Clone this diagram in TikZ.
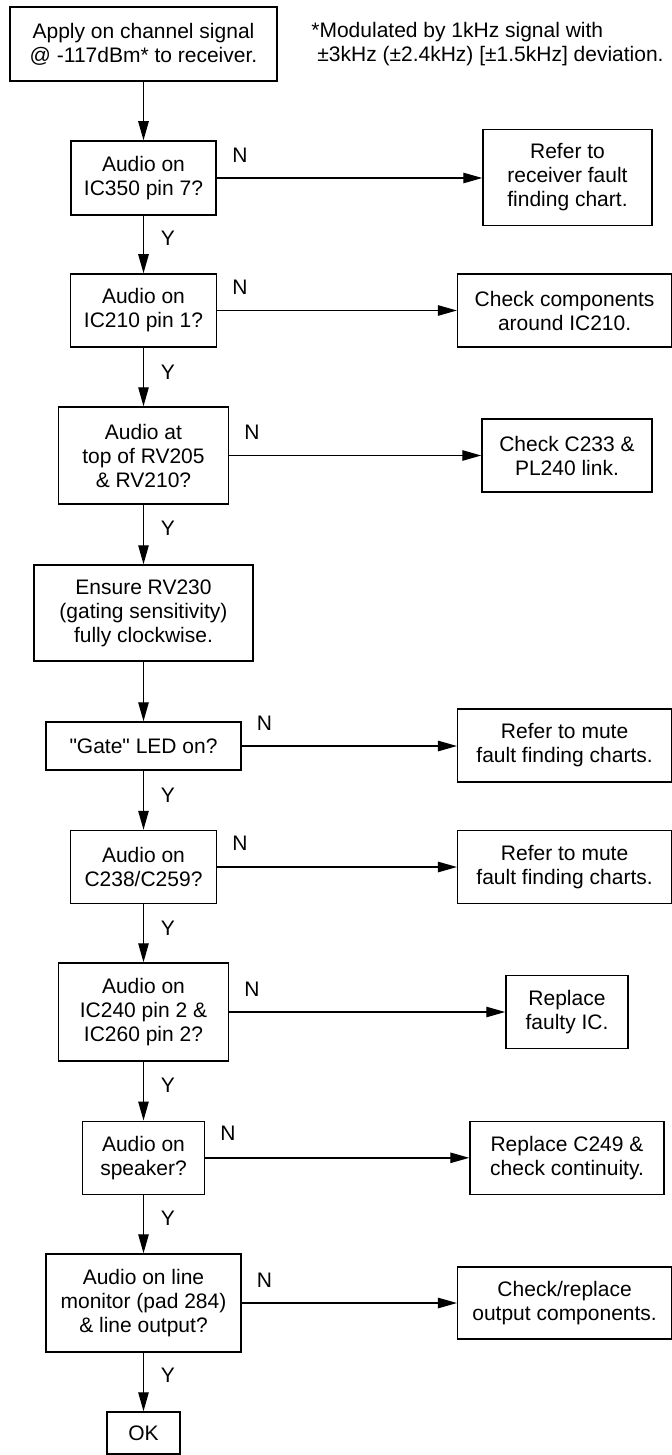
\documentclass[tikz,border=0pt]{standalone}
\usepackage{fontspec}
\setmainfont{Liberation Sans}[Ligatures=TeXOff]
\usetikzlibrary{arrows.meta}
\begin{document}
\begin{tikzpicture}[x=0.5pt,y=-0.5pt,
  box/.style={draw, line width=0.75pt, inner sep=0pt, align=center, font=\fontsize{10.5pt}{12pt}\selectfont},
  lbl/.style={inner sep=0pt, font=\fontsize{10.5pt}{12pt}\selectfont},
  arr/.style={line width=0.7pt, -{Triangle[length=9.5pt,width=5.2pt]}}]
\useasboundingbox (0,0) rectangle (672,1455);

% left column
\node[box, minimum width=133.5pt, minimum height=37pt] (s0) at (143.5,44) {Apply on channel signal\\@ -117dBm* to receiver.};
\node[lbl, anchor=west, align=left] (note) at (311,44) {*Modulated by 1kHz signal with\\\hspace{3pt}±3kHz (±2.4kHz) [±1.5kHz] deviation.};
\node[box, minimum width=72.5pt, minimum height=37pt] (q1) at (143.5,178) {Audio on\\IC350 pin 7?};
\node[box, minimum width=73pt, minimum height=36.5pt] (q2) at (143.5,310.5) {Audio on\\IC210 pin 1?};
\node[box, minimum width=85pt, minimum height=48.5pt] (q3) at (143.5,455.5) {Audio at\\top of RV205\\\& RV210?};
\node[box, minimum width=109.3pt, minimum height=48pt] (s1) at (143.5,613) {Ensure RV230\\(gating sensitivity)\\fully clockwise.};
\node[box, minimum width=97.3pt, minimum height=24pt] (q4) at (143.5,746) {"Gate" LED on?};
\node[box, minimum width=73pt, minimum height=36.5pt] (q5) at (143.5,867) {Audio on\\C238/C259?};
\node[box, minimum width=85pt, minimum height=49pt] (q6) at (143.5,1012) {Audio on\\IC240 pin 2 \&\\IC260 pin 2?};
\node[box, minimum width=61pt, minimum height=36.5pt] (q7) at (143.5,1157.8) {Audio on\\speaker?};
\node[box, minimum width=97.3pt, minimum height=49pt] (q8) at (143.5,1303) {Audio on line\\monitor (pad 284)\\\& line output?};
\node[box, minimum width=36.5pt, minimum height=21pt] (ok) at (143.5,1433) {OK};

% right column
\node[box, minimum width=84.5pt, minimum height=48pt] (r1) at (567.5,177.5) {Refer to\\receiver fault\\finding chart.};
\node[box, minimum width=106.9pt, minimum height=36.5pt] (r2) at (564.6,310.5) {Check components\\around IC210.};
\node[box, minimum width=85pt, minimum height=36.5pt] (r3) at (567,455.5) {Check C233 \&\\PL240 link.};
\node[box, minimum width=106.9pt, minimum height=36.5pt] (r4) at (564.6,745.5) {Refer to mute\\fault finding charts.};
\node[box, minimum width=106.9pt, minimum height=36.5pt] (r5) at (564.6,867) {Refer to mute\\fault finding charts.};
\node[box, minimum width=61pt, minimum height=36.5pt] (r6) at (567,1012) {Replace\\faulty IC.};
\node[box, minimum width=97pt, minimum height=36.5pt] (r7) at (567,1157.8) {Replace C249 \&\\check continuity.};
\node[box, minimum width=106.9pt, minimum height=36pt] (r8) at (564.6,1303) {Check/replace\\output components.};

% vertical connectors
\foreach \a/\b in {s0/q1,q1/q2,q2/q3,q3/s1,s1/q4,q4/q5,q5/q6,q6/q7,q7/q8,q8/ok}
  \draw[arr] (\a.south) -- (\b.north);
% horizontal connectors
\foreach \a/\b in {q1/r1,q2/r2,q3/r3,q4/r4,q5/r5,q6/r6,q7/r7,q8/r8}
  \draw[arr] (\a.east) -- (\a.east -| \b.west);

% N labels
\node[lbl] (n1) at (240,155) {N};
\node[lbl] (n2) at (240,287) {N};
\node[lbl] (n3) at (252,432) {N};
\node[lbl] (n4) at (264.4,723) {N};
\node[lbl] (n5) at (240,843) {N};
\node[lbl] (n6) at (252,989) {N};
\node[lbl] (n7) at (228,1133) {N};
\node[lbl] (n8) at (264.4,1280) {N};

% Y labels
\node[lbl] (y1) at (168,238) {Y};
\node[lbl] (y2) at (168,372) {Y};
\node[lbl] (y3) at (168,528) {Y};
\node[lbl] (y4) at (168,795) {Y};
\node[lbl] (y5) at (168,928) {Y};
\node[lbl] (y6) at (168,1085) {Y};
\node[lbl] (y7) at (168,1218) {Y};
\node[lbl] (y8) at (168,1375) {Y};
\end{tikzpicture}
\end{document}
